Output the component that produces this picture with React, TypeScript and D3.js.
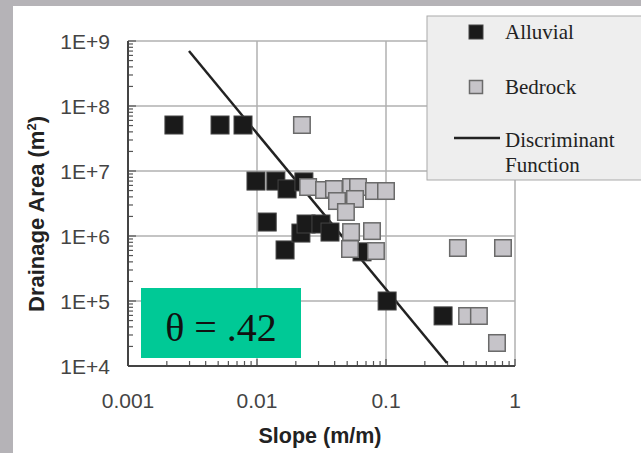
import React from "react";
import * as d3 from "d3";

const alluvialSlope = [0.00227, 0.00517, 0.00779, 0.00982, 0.014, 0.0171, 0.0231, 0.012, 0.0165, 0.0219, 0.024, 0.0313, 0.0368, 0.0652, 0.102, 0.277];
const alluvialArea = [5.1e7, 5.1e7, 5.1e7, 7.0e6, 7.0e6, 5.3e6, 6.8e6, 1.64e6, 6.1e5, 1.11e6, 1.53e6, 1.53e6, 1.15e6, 5.7e5, 1.0e5, 5.9e4];

const bedrockSlope = [0.0223, 0.0249, 0.0331, 0.0395, 0.0536, 0.0607, 0.0807, 0.1, 0.0417, 0.0575, 0.0489, 0.0536, 0.0779, 0.0526, 0.0836, 0.361, 0.807, 0.425, 0.525, 0.725];
const bedrockArea = [5.1e7, 5.67e6, 5.1e6, 5.28e6, 5.67e6, 5.67e6, 4.92e6, 4.92e6, 3.45e6, 3.71e6, 2.34e6, 1.15e6, 1.19e6, 6.31e5, 5.87e5, 6.54e5, 6.54e5, 5.88e4, 5.88e4, 2.26e4];

const lineSlope = [0.00297, 0.297];
const lineArea = [7.0e8, 1.11e4];

const xTickValues = [0.001, 0.01, 0.1, 1];
const xTickLabels = ["0.001", "0.01", "0.1", "1"];
const yTickValues = [1e4, 1e5, 1e6, 1e7, 1e8, 1e9];
const yTickLabels = ["1E+4", "1E+5", "1E+6", "1E+7", "1E+8", "1E+9"];

const legendLabels = ["Alluvial", "Bedrock", "Discriminant", "Function"];
const annotation = "θ = .42";

export default function App() {
  const W = 641, H = 453;
  const x = d3.scaleLog().domain([0.001, 1]).range([128, 515]);
  const y = d3.scaleLog().domain([1e4, 1e9]).range([366, 41]);
  const sans = "'Liberation Sans', Arial, sans-serif";
  const serif = "'Liberation Serif', 'Times New Roman', serif";
  const ms = 18;
  const isMajor = (v: number) => Math.abs(Math.log10(v) - Math.round(Math.log10(v))) < 1e-9;
  const xMinor = x.ticks();
  const yMinor = y.ticks();
  const line = d3.line<[number, number]>().x(d => x(d[0])).y(d => y(d[1]));
  const linePts: [number, number][] = lineSlope.map((s, i) => [s, lineArea[i]]);

  return (
    <svg width={W} height={H} style={{ position: "fixed", left: 0, top: 0 }}>
      <rect x={0} y={0} width={W} height={H} fill="#b5b3b7" />
      <rect x={13} y={6} width={W - 13} height={H - 6} fill="#ffffff" />
      {/* grid */}
      {xTickValues.map((v, i) => (
        <line key={"gx" + i} x1={x(v)} x2={x(v)} y1={y(1e9)} y2={y(1e4)} stroke="#b0b0b0" strokeWidth={1.5} />
      ))}
      {yTickValues.map((v, i) => (
        <line key={"gy" + i} x1={x(0.001)} x2={x(1)} y1={y(v)} y2={y(v)} stroke="#b0b0b0" strokeWidth={1.5} />
      ))}
      {/* minor ticks */}
      {yMinor.map((v, i) => (
        <line key={"ty" + i} x1={x(0.001)} x2={x(0.001) + (isMajor(v) ? 8 : 5)} y1={y(v)} y2={y(v)} stroke="#555" strokeWidth={1.2} />
      ))}
      {xMinor.map((v, i) => (
        <line key={"tx" + i} x1={x(v)} x2={x(v)} y1={y(1e4)} y2={y(1e4) - (isMajor(v) ? 7 : 5)} stroke="#555" strokeWidth={1.2} />
      ))}
      {/* axes */}
      <line x1={x(0.001)} x2={x(0.001)} y1={y(1e9)} y2={y(1e4)} stroke="#444" strokeWidth={2} />
      <line x1={x(0.001)} x2={x(1)} y1={y(1e4)} y2={y(1e4)} stroke="#444" strokeWidth={2} />
      {/* tick labels */}
      {yTickValues.map((v, i) => (
        <text key={"ly" + i} x={110} y={y(v)} dy="0.36em" textAnchor="end" fontFamily={sans} fontSize={21} fill="#444">{yTickLabels[i]}</text>
      ))}
      {xTickValues.map((v, i) => (
        <text key={"lx" + i} x={x(v)} y={408} textAnchor="middle" fontFamily={sans} fontSize={21} fill="#444">{xTickLabels[i]}</text>
      ))}
      <text x={320} y={443} textAnchor="middle" fontFamily={sans} fontSize={21.5} fontWeight="bold" fill="#222">Slope (m/m)</text>
      <text transform="translate(44,214) rotate(-90)" textAnchor="middle" fontFamily={sans} fontSize={22} fontWeight="bold" fill="#222">
        Drainage Area (m<tspan dy={-8} fontSize={13}>2</tspan><tspan dy={8}>)</tspan>
      </text>
      {/* discriminant line */}
      <path d={line(linePts) || ""} fill="none" stroke="#222" strokeWidth={2.5} />
      {/* alluvial */}
      {alluvialSlope.map((s, i) => (
        <rect key={"a" + i} x={x(s) - ms / 2} y={y(alluvialArea[i]) - ms / 2} width={ms} height={ms} fill="#1a1a1a" stroke="#444" strokeWidth={1} />
      ))}
      {/* bedrock */}
      {bedrockSlope.map((s, i) => (
        <rect key={"b" + i} x={x(s) - ms / 2 + 0.75} y={y(bedrockArea[i]) - ms / 2 + 0.75} width={ms - 1.5} height={ms - 1.5} fill="#c6c4c9" stroke="#6a6a6a" strokeWidth={1.5} />
      ))}
      {/* legend */}
      <rect x={427} y={16} width={230} height={164} fill="#eeeeee" stroke="#aaa" strokeWidth={1} />
      <rect x={469} y={25} width={14} height={14} fill="#1a1a1a" stroke="#444" strokeWidth={1} />
      <text x={505} y={39} fontFamily={serif} fontSize={21} fill="#222">{legendLabels[0]}</text>
      <rect x={469.5} y={80.5} width={13} height={13} fill="#c6c4c9" stroke="#6a6a6a" strokeWidth={1.5} />
      <text x={505} y={94} fontFamily={serif} fontSize={21} fill="#222">{legendLabels[1]}</text>
      <line x1={454} x2={500} y1={138} y2={138} stroke="#222" strokeWidth={2.5} />
      <text x={505} y={147} fontFamily={serif} fontSize={21} fill="#222">{legendLabels[2]}</text>
      <text x={505} y={172} fontFamily={serif} fontSize={21} fill="#222">{legendLabels[3]}</text>
      {/* annotation */}
      <rect x={141} y={288} width={160} height={70} fill="#00c996" />
      <text x={221} y={341} textAnchor="middle" fontFamily={serif} fontSize={40} fill="#111">{annotation}</text>
    </svg>
  );
}
